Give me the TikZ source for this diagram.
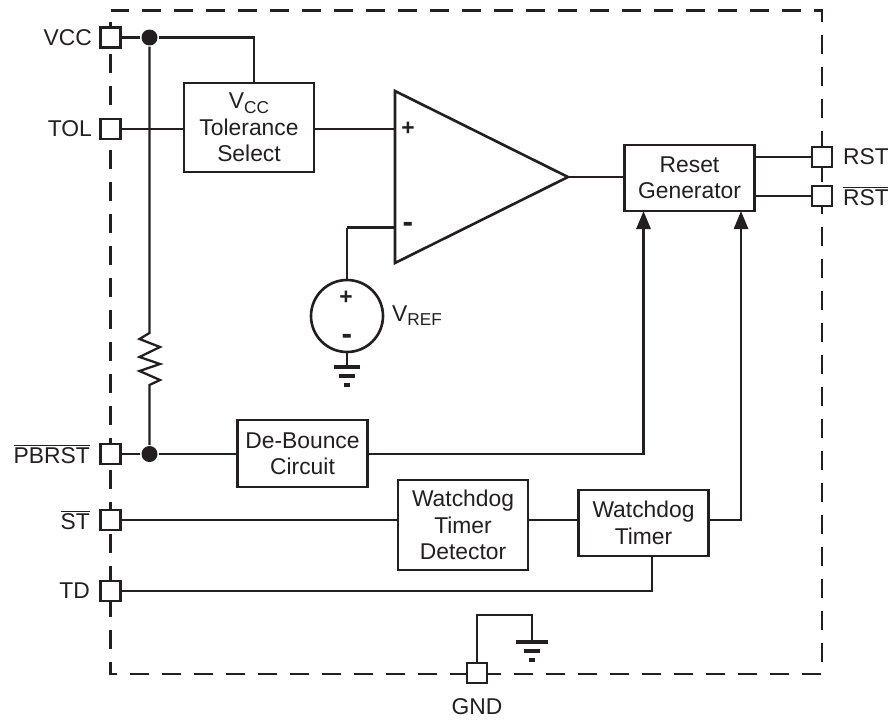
\documentclass[tikz,border=0pt]{standalone}
\usepackage{fontspec}
\setmainfont{Liberation Sans}
\usetikzlibrary{arrows.meta}
\definecolor{ink}{HTML}{231F20}
\newcommand{\vsub}[1]{V\raisebox{-0.35ex}{\fontsize{9.8}{10}\selectfont #1}}
\newcommand{\barred}[1]{$\overline{\mbox{#1}}$}
\newcommand{\bigminus}{\textbf{\fontsize{18}{18}\selectfont -}}
\tikzset{
  block/.style={draw,fill=white,line width=1.5pt,minimum width=2.6cm,align=center,inner sep=0pt},
  pin/.style={draw,fill=white,line width=1.5pt,minimum size=0.4cm,inner sep=0pt},
  dot/.style={circle,fill=ink,minimum size=0.32cm,inner sep=0pt},
  lbl/.style={inner sep=0pt},
  thick wire/.style={line width=1.6pt},
  heavy wire/.style={line width=2.1pt},
  frame/.style={line width=1.4pt,dash pattern=on 0.38cm off 0.26cm}
}
\begin{document}
\begin{tikzpicture}[>={Stealth[length=0.36cm,width=0.28cm,inset=0pt]},x=0.02cm,y=-0.02cm,ink,line width=1.3pt,
    every node/.append style={font=\fontsize{13}{15}\selectfont,text=ink}]
    \useasboundingbox(0,0) rectangle (888,720);
    \draw[frame](110.5,10.5)--(822,10.5)--(822,674)--(110.5,674)--cycle;
\node(vcc)at(110.5,37.5)[pin]{};
\node(tol)at(110.5,129)[pin]{};
\node(pbrst)at(110.5,454)[pin]{};
\node(st)at(110.5,520)[pin]{};
\node(td)at(110.5,591)[pin]{};
\node(rst)at(822,157)[pin]{};
\node(rstn)at(822,196)[pin]{};
\node(gnd)at(477,673)[pin]{};
\node at (93,37.5)[lbl,anchor=east]{VCC};
\node at (93,129)[lbl,anchor=east]{TOL};
\node at (91,454)[lbl,anchor=east]{\barred{PBRST}};
\node at (91,520)[lbl,anchor=east]{\barred{ST}};
\node at (91,591)[lbl,anchor=east]{TD};
\node at (842,157)[lbl,anchor=west]{RST};
\node at (842,196)[lbl,anchor=west]{\barred{RST}};
\node at (477,707)[lbl]{GND};
\node(select)at(249,127.5)[block,minimum height=1.78cm]{\vsub{CC}\\Tolerance\\Select};
\node(reset)at(689.5,178)[block,minimum height=1.32cm]{Reset\\Generator};
\node(debounce)at(302.5,453.5)[block,minimum height=1.34cm]{De-Bounce\\Circuit};
\node(detector)at(463,525)[block,minimum height=1.8cm]{Watchdog\\Timer\\Detector};
\node(watchdog)at(643.5,523)[block,minimum height=1.32cm]{Watchdog\\Timer};
\node(vccdot)at(149.5,37.5)[dot]{};
\node(pbdot)at(149.5,454)[dot]{};
\coordinate(rtop)at(149.5,333);
\coordinate(rbot)at(149.5,385);
\draw(vcc)--(vccdot)-|(254,83);
\draw(vccdot)--(rtop)--++(-10,6)--++(20.5,8)--++(-20.5,10)--++(20.5,7)--++(-20.5,7)--++(20.5,9)--(rbot)--(pbdot);
\draw(tol)--(select.west|-tol);
\draw(pbrst)--(pbdot)--(debounce.west|-pbdot);
\node(plus)at(408,129)[lbl]{\textbf{+}};
\node(minus)at(408,227.5)[lbl]{\bigminus};
\coordinate(opplus)at(395,129);
\coordinate(opminus)at(395,227.5);
\coordinate(opout)at(568,177);
\draw[line width=1.5pt,line join=miter](395,91)--(395,263)--(opout)--cycle;
\draw(select.east|-opplus)--(opplus);
\draw[thick wire](opout)--(reset.west|-opout);
\node(vref)at(347,316)[circle,draw,line width=1.5pt,minimum size=1.44cm,inner sep=0pt]{};
\node at (346,298)[lbl]{\textbf{+}};
\node at (347,339)[lbl]{\bigminus};
\node at (391,316)[lbl,anchor=west]{\vsub{REF}};
\draw[heavy wire](opminus)--(vref.north|-opminus);
\draw(vref.north|-opminus)--(vref.north);
\draw[thick wire](vref.south)--++(0,15);
\draw[heavy wire](334,367)--(360,367);
\draw[heavy wire](339,376)--(355,376);
\draw[heavy wire](344,385)--(350,385);
\draw[thick wire](reset.east|-rst)--(rst);
\draw(reset.east|-rstn)--(rstn);
\draw[thick wire,->](debounce.east|-pbdot)-|(643.5,211);
\draw[thick wire,->](watchdog.east|-st)-|(741,211);
\draw[thick wire](st)--(detector.west|-st);
\draw(detector.east|-st)--(watchdog.west|-st);
\draw(td)-|(652,556);
\draw(gnd)--(477,615)-|(532,642);
\draw[heavy wire](516,642)--(548,642);
\draw[heavy wire](524,651)--(540,651);
\draw[heavy wire](529,660)--(535,660);
\end{tikzpicture}
\end{document}
